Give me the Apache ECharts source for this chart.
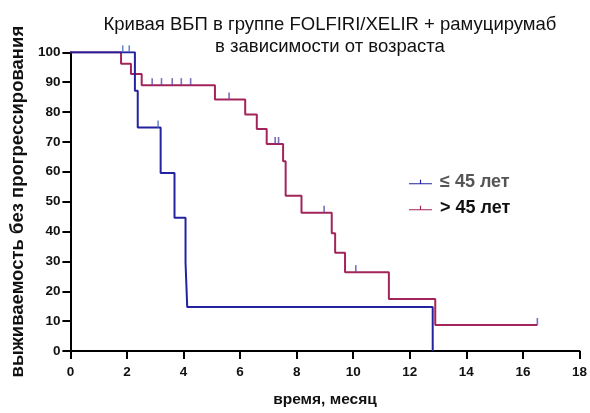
<!DOCTYPE html>
<html><head><meta charset="utf-8">
<script src="https://cdn.jsdelivr.net/npm/echarts@6/dist/echarts.min.js"></script>
<style>html,body{margin:0;padding:0;background:#fff}#c{width:590px;height:413px}</style>
</head><body><div id="c"></div>
<script>
const titleText = 'Кривая ВБП в группе FOLFIRI/XELIR + рамуцирумаб\nв зависимости от возраста';
const xAxisName = 'время, месяц';
const yAxisName = 'выживаемость без прогрессирования';
const seriesNames = ['≤ 45 лет', '> 45 лет'];

// ≤ 45 лет
const youngTimes = [0, 2.28, 2.38, 3.19, 3.68, 4.07, 4.13, 12.81];
const youngSurv  = [100, 87.1, 74.8, 59.6, 44.6, 29.6, 14.7, 0];
const youngCensorTimes = [1.85, 2.08, 3.10];
const youngCensorSurv  = [100, 100, 74.8];

// > 45 лет
const oldTimes = [0, 1.79, 2.14, 2.52, 5.11, 6.18, 6.59, 6.94, 7.52, 7.61, 8.17, 9.24, 9.36, 9.71, 11.26, 12.90, 16.51];
const oldSurv  = [100, 96.2, 92.7, 89.0, 84.2, 79.2, 74.3, 69.3, 63.5, 52.0, 46.3, 39.4, 32.9, 26.4, 17.4, 8.7, 8.7];
const oldCensorTimes = [2.89, 3.22, 3.60, 3.92, 4.25, 5.61, 7.24, 7.36, 8.97, 10.09, 16.51];
const oldCensorSurv  = [89.0, 89.0, 89.0, 89.0, 89.0, 84.2, 69.3, 69.3, 46.3, 26.4, 8.7];

const zip = (a, b) => a.map((v, i) => [v, b[i]]);
const blue = '#2323a0', red = '#a3245a';
const blueTick = '#4d6bc0', redTick = '#5b4aa8';
const tickSym = 'path://M0,0h2v10h-2z';
const legendIcon = 'path://M0,9h40v2h-40z M19,3h2v7h-2z';
const font = '"Liberation Sans", Arial, sans-serif';

const chart = echarts.init(document.getElementById('c'));
chart.setOption({
  animation: false,
  title: {
    text: titleText, left: 325, top: 9, textAlign: 'center',
    textStyle: { fontFamily: font, fontSize: 18.5, fontWeight: 'normal', color: '#111', lineHeight: 22 }
  },
  legend: {
    orient: 'vertical', left: 404, top: 168, itemGap: 8, itemWidth: 23, itemHeight: 10,
    textStyle: { fontFamily: font, fontSize: 18, fontWeight: 'bold', padding: [0, 0, 0, 3] },
    data: [
      { name: seriesNames[0], icon: legendIcon, itemStyle: { color: blue }, textStyle: { color: '#555' } },
      { name: seriesNames[1], icon: legendIcon, itemStyle: { color: red }, textStyle: { color: '#111' } }
    ]
  },
  grid: { left: 68.3, right: 8.7, top: 52.3, bottom: 54.7 },
  xAxis: {
    type: 'value', min: 0, max: 18, interval: 2,
    name: xAxisName, nameLocation: 'middle', nameGap: 41,
    nameTextStyle: { fontFamily: font, fontSize: 15.5, fontWeight: 'bold', color: '#111' },
    axisLine: { lineStyle: { color: '#000', width: 2 } },
    axisTick: { length: 8, lineStyle: { color: '#000', width: 2 } },
    axisLabel: { fontFamily: font, fontSize: 13.5, fontWeight: 'bold', color: '#111', margin: 14 },
    splitLine: { show: false }
  },
  yAxis: {
    type: 'value', min: 0, max: 100, interval: 10,
    name: yAxisName, nameLocation: 'middle', nameGap: 40, nameRotate: 90,
    nameTextStyle: { fontFamily: font, fontSize: 18.5, fontWeight: 'bold', color: '#111' },
    axisLine: { show: true, lineStyle: { color: '#000', width: 2 } },
    axisTick: { show: true, length: 8, lineStyle: { color: '#000', width: 2 } },
    axisLabel: { fontFamily: font, fontSize: 13.5, fontWeight: 'bold', color: '#111', margin: 10 },
    splitLine: { show: false }
  },
  series: [
    { name: seriesNames[1], type: 'line', step: 'end', data: zip(oldTimes, oldSurv), showSymbol: false,
      lineStyle: { color: red, width: 2 }, itemStyle: { color: red }, z: 2 },
    { name: seriesNames[0], type: 'line', step: 'end', data: zip(youngTimes, youngSurv), showSymbol: false,
      lineStyle: { color: blue, width: 2 }, itemStyle: { color: blue }, z: 3 },
    { type: 'scatter', data: zip(oldCensorTimes, oldCensorSurv), symbol: tickSym, symbolSize: [1.6, 7],
      symbolOffset: [0, -3.5], itemStyle: { color: redTick }, z: 4, silent: true },
    { type: 'scatter', data: zip(youngCensorTimes, youngCensorSurv), symbol: tickSym, symbolSize: [1.6, 7],
      symbolOffset: [0, -3.5], itemStyle: { color: blueTick }, z: 4, silent: true }
  ]
});
</script></body></html>
